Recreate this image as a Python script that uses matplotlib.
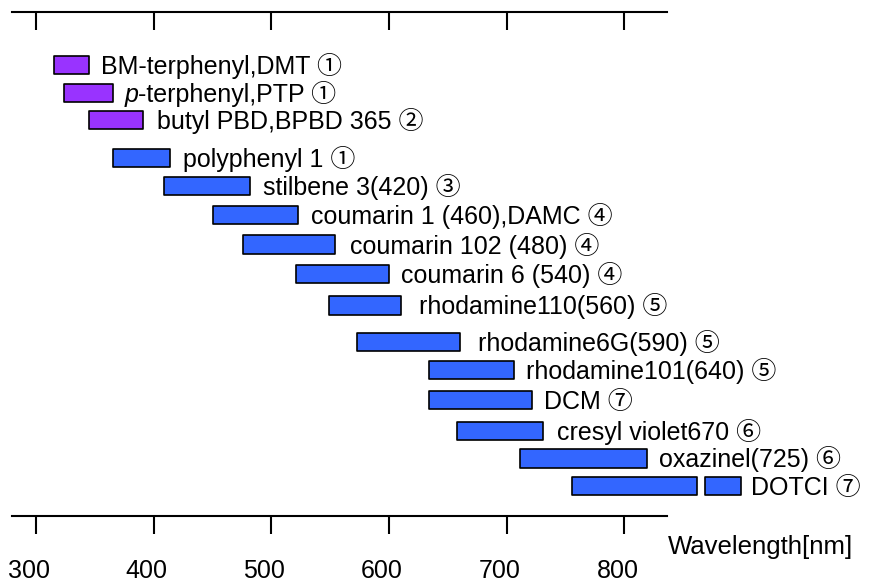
import matplotlib
matplotlib.use('Agg')
import matplotlib.pyplot as plt
from matplotlib.transforms import ScaledTranslation

# dye lasing ranges (nm), one row per dye, top to bottom
dyes = ['BM-terphenyl,DMT', 'p-terphenyl,PTP', 'butyl PBD,BPBD 365',
        'polyphenyl 1', 'stilbene 3(420)', 'coumarin 1 (460),DAMC',
        'coumarin 102 (480)', 'coumarin 6 (540)', 'rhodamine110(560)',
        'rhodamine6G(590)', 'rhodamine101(640)', 'DCM', 'cresyl violet670',
        'oxazinel(725)', 'DOTCI']
marks = ['①', '①', '②', '①', '③', '④', '④', '④', '⑤', '⑤', '⑤', '⑦', '⑥', '⑥', '⑦']
ranges = [[(315, 345)], [(324, 365)], [(345, 391)], [(365, 414)], [(409, 482)],
          [(450, 523)], [(476, 554)], [(521, 600)], [(549, 610)], [(573, 660)],
          [(634, 706)], [(634, 721)], [(658, 731)], [(711, 819)],
          [(755, 862), (868, 899)]]
wl_ticks = [300, 400, 500, 600, 700, 800]

# row layout (row units) and styling
row_pos = [0, 0.93, 1.83, 3.09, 4.02, 4.99, 5.98, 6.95, 8.0, 9.22, 10.15,
           11.15, 12.18, 13.09, 14.0]
label_pad = [12, 12, 14, 13, 13, 13, 15, 12, 18, 18, 12, 12, 14, 12, 10]  # px
colors = ['#9933ff'] * 3 + ['#3366ff'] * 12
bar_h = 0.61

FAMILY = ['Liberation Sans', 'Noto Sans CJK JP', 'DejaVu Sans']
plt.rcParams['font.family'] = FAMILY

W, H = 872, 583
fig = plt.figure(figsize=(W / 100, H / 100), dpi=100)
ax = fig.add_axes([0, 1 - 516 / H, 1, (516 - 12.3) / H])
ax.set_xlim(269.4, 1010.3)
ax.set_ylim(15.005, -1.746)

fs = 18
for y, segs, c, name, mk, pad in zip(row_pos, ranges, colors, dyes, marks, label_pad):
    ax.broken_barh([(a, b - a) for a, b in segs], (y - bar_h / 2, bar_h),
                   facecolors=c, edgecolors='black', linewidth=1.2, clip_on=False)
    label = f'{name} {mk}'
    xy = (segs[-1][1], y)
    off = (pad * 0.72, -0.36 * fs)
    if name.startswith('p-'):
        # italic "p" prefix, the rest follows on the same baseline
        head = ax.annotate('p', xy=xy, xytext=off, textcoords='offset points',
                           ha='left', va='baseline', fontsize=fs, style='italic',
                           annotation_clip=False)
        ax.annotate(label[1:], xy=(1, 0), xycoords=head, ha='left', va='bottom',
                    fontsize=fs, annotation_clip=False)
    else:
        ax.annotate(label, xy=xy, xytext=off, textcoords='offset points',
                    ha='left', va='baseline', fontsize=fs, annotation_clip=False)

# axis frame: only top and bottom lines, both with ticks pointing down
for s in ['left', 'right', 'top']:
    ax.spines[s].set_visible(False)
ax.spines['bottom'].set_bounds(279.4, 836.4)
ax.spines['bottom'].set_linewidth(1.5)
ax.set_yticks([])
ax.set_xticks(wl_ticks)
ax.set_xticklabels([str(t) for t in wl_ticks])
ax.tick_params(axis='x', direction='out', length=13, width=1.5,
               labelsize=18, pad=18, top=False)
shift = ScaledTranslation(-7 / 100, 0, fig.dpi_scale_trans)
for lab in ax.get_xticklabels():
    lab.set_transform(lab.get_transform() + shift)

top = ax.secondary_xaxis('top')
top.set_xticks(wl_ticks)
top.tick_params(direction='in', length=13, width=1.5, labeltop=False)
top.spines['top'].set_bounds(279.4, 836.4)
top.spines['top'].set_linewidth(1.5)

ax.set_xlabel('Wavelength[nm]', fontsize=18.5, ha='left', va='center')
ax.xaxis.set_label_coords(668 / W, (516 - 547) / (516 - 12.3))

fig.savefig('out.png', dpi=100)
